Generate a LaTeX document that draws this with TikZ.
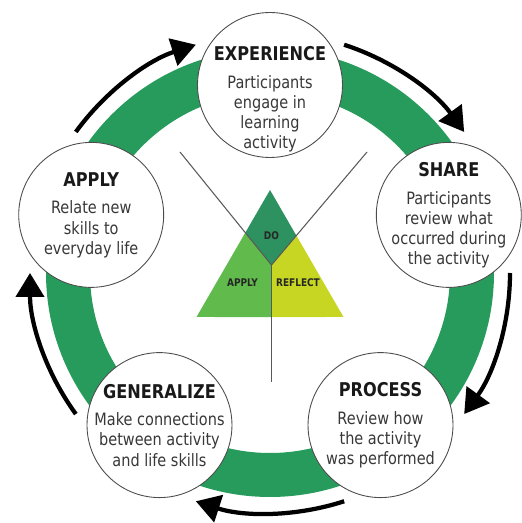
\documentclass[tikz,border=0pt]{standalone}
\usepackage{fontspec}
\usetikzlibrary{arrows.meta}
\newfontfamily\cyclefont{DejaVu Sans}[FakeStretch=0.85]
\definecolor{ringgreen}{RGB}{38,155,92}
\definecolor{dogreen}{RGB}{46,145,96}
\definecolor{applygreen}{RGB}{96,186,76}
\definecolor{reflectyellow}{RGB}{198,214,34}

\begin{document}
\begin{tikzpicture}[x=0.02cm, y=0.02cm,
    stage/.style={circle, draw=black!70, line width=0.5pt, fill=white, minimum size=2.9cm, inner sep=0pt},
    stagetext/.style={align=center, text=black!78, inner sep=0pt, font={\cyclefont\fontsize{9.7}{11.4}\selectfont}},
    flow/.style={line width=0.085cm, -{Triangle[length=0.48cm, width=0.56cm]}},
    split/.style={black!65, line width=0.6pt},
    tag/.style={font={\cyclefont\bfseries\fontsize{6}{6.5}\selectfont}, text=black!85, inner sep=0pt}]
  \useasboundingbox (-270,-250) rectangle (251,273);

  % Draw the green ring
  \draw[ringgreen, line width=0.88cm] (0,0) circle[radius=202];

  % Draw the arrows between the stages
  \foreach \a [count=\i] in {144,72,0,-72,-144} {
    \coordinate (tail\i) at (\a:240);
    \draw[flow] (tail\i) arc[start angle=\a, delta angle=-36, radius=240];
  }

  % Draw the triangle in the middle
  \coordinate (apex) at (0,83);
  \coordinate (bl) at (-73.5,-44);
  \coordinate (br) at (73.5,-44);
  \coordinate (hub) at (1.5,8);
  \coordinate (ul) at (-90,121);
  \coordinate (ur) at (97,121);
  \coordinate (bot) at (1.5,-109);
  \coordinate (kl) at (intersection of apex--bl and hub--ul);
  \coordinate (kr) at (intersection of apex--br and hub--ur);
  \coordinate (hb) at (intersection of bl--br and hub--bot);
  \fill[dogreen] (apex) -- (kl) -- (hub) -- (kr) -- cycle;
  \fill[applygreen] (kl) -- (bl) -- (hb) -- (hub) -- cycle;
  \fill[reflectyellow] (kr) -- (br) -- (hb) -- (hub) -- cycle;
  \draw[split] (ul) -- (hub) -- (ur);
  \draw[split] (hub) -- (bot);
  \node[tag] (dolabel) at (1.5,37) {DO};
  \node[tag] (applylabel) at (-27.5,-10) {APPLY};
  \node[tag] (reflectlabel) at (28,-10) {REFLECT};

  % Draw the five stages
  \node[stage] (experience) at (90:188) {};
  \node[stagetext] (experiencetext) at ([yshift=-8]experience.center) {{\bfseries\color{black!90}\fontsize{10.8}{11.4}\selectfont EXPERIENCE}\\[4.5pt]Participants\\engage in\\learning\\activity};

  \node[stage] (share) at (18:188) {};
  \node[stagetext] (sharetext) at (share) {{\bfseries\color{black!90}\fontsize{10.8}{11.4}\selectfont SHARE}\\[4.5pt]Participants\\review what\\occurred during\\the activity};

  \node[stage] (process) at (-54:188) {};
  \node[stagetext] (processtext) at (process) {{\bfseries\color{black!90}\fontsize{10.8}{11.4}\selectfont PROCESS}\\[4.5pt]Review how\\the activity\\was performed};

  \node[stage] (generalize) at (-126:188) {};
  \node[stagetext] (generalizetext) at (generalize) {{\bfseries\color{black!90}\fontsize{10.8}{11.4}\selectfont GENERALIZE}\\[4.5pt]Make connections\\between activity\\and life skills};

  \node[stage] (apply) at (162:188) {};
  \node[stagetext] (applytext) at (apply) {{\bfseries\color{black!90}\fontsize{10.8}{11.4}\selectfont APPLY}\\[4.5pt]Relate new\\skills to\\everyday life};
\end{tikzpicture}
\end{document}
